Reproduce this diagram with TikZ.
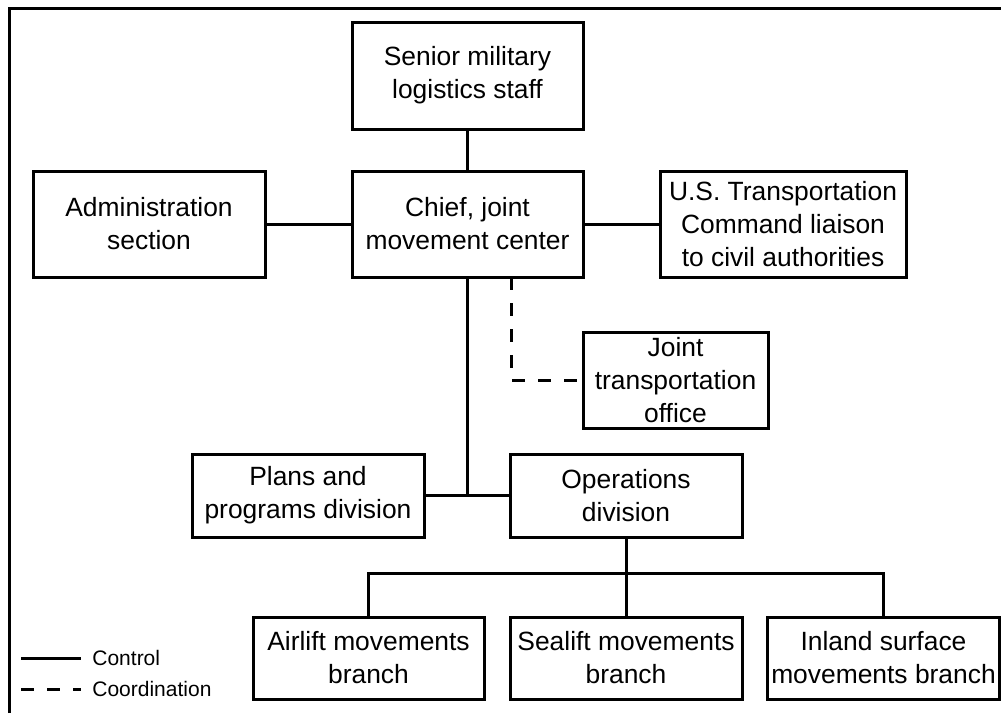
\documentclass[tikz,border=0pt]{standalone}
\usepackage{fontspec}
\setmainfont{Liberation Sans}
\begin{document}
\begin{tikzpicture}[x=0.5pt, y=-0.5pt,
    box/.style={draw, line width=1.5pt, align=center, inner sep=2pt,
                font=\fontsize{13.2}{16.5}\selectfont},
    link/.style={line width=1.5pt},
    coord/.style={line width=1.5pt, dash pattern=on 6.5pt off 6.5pt},
    legend/.style={font=\fontsize{10.5}{12}\selectfont, anchor=west, inner sep=0pt}]
    \useasboundingbox (0,0) rectangle (1001,713);
    % frame, cut at the page edge
    \draw[line width=1.5pt] (9,713) -- (9,8) -- (1001,8);

    \node[box, minimum width=115.5pt, minimum height=53.5pt] (senior) at (467.5,75.5) {Senior military\\logistics staff};
    \node[box, minimum width=115.5pt, minimum height=53pt] (chief) at (467.5,224) {Chief, joint\\movement center};
    \node[box, minimum width=116pt, minimum height=53pt] (admin) at (149,224) {Administration\\section};
    \node[box, minimum width=123pt, minimum height=53pt] (ustc) at (783,224) {U.S. Transportation\\Command liaison\\to civil authorities};
    \node[box, minimum width=92.5pt, minimum height=48pt] (jto) at (675.5,380) {Joint\\transportation\\office};
    \node[box, minimum width=116pt, minimum height=41.5pt] (plans) at (308,495.5) {Plans and\\programs division};
    \node[box, minimum width=116pt, minimum height=41.5pt] (ops) at (626,495.5) {Operations\\division};
    \node[box, minimum width=115.5pt, minimum height=41pt] (air) at (368.5,658) {Airlift movements\\branch};
    \node[box, minimum width=116pt, minimum height=41pt] (sea) at (626,658) {Sealift movements\\branch};
    \node[box, minimum width=115.5pt, minimum height=41pt] (inland) at (883.5,658) {Inland surface\\movements branch};

    % control lines
    \draw[link] (senior) -- (chief);
    \draw[link] (admin) -- (chief);
    \draw[link] (chief) -- (ustc);
    \draw[link] (plans.east) -- (ops.west);
    \draw[link] (chief.south) -- (chief.south |- plans.east);
    \coordinate (bus) at (626,573);
    \draw[link] (ops.south) -- (sea.north);
    \draw[link] (air.north) |- (bus) -| (inland.north);

    % coordination line
    \coordinate (dashtop) at (511,277);
    \draw[coord] (dashtop) |- (jto.west);

    % legend
    \coordinate (ctrlA) at (21,658);
    \coordinate (ctrlB) at (81,658);
    \coordinate (coordA) at (21,689);
    \coordinate (coordB) at (81,689);
    \draw[link] (ctrlA) -- (ctrlB);
    \draw[coord] (coordA) -- (coordB);
    \node[legend] (ctrltext) at (92,658) {Control};
    \node[legend] (coordtext) at (92,689) {Coordination};
\end{tikzpicture}
\end{document}
